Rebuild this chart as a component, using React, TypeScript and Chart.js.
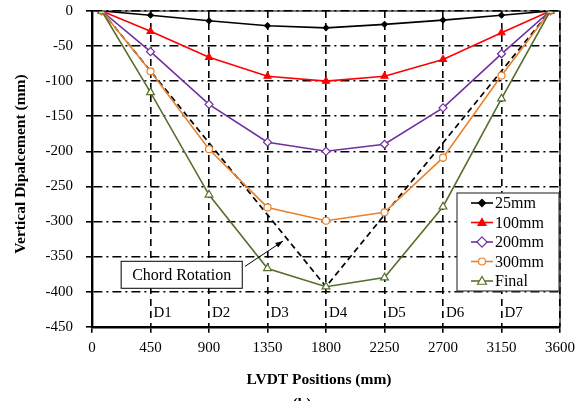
import React, { useEffect, useRef } from "react";
import { Chart, registerables } from "chart.js";

Chart.register(...registerables);

const positions = [75, 450, 900, 1350, 1800, 2250, 2700, 3150, 3525];
const seriesLabels = ["25mm", "100mm", "200mm", "300mm", "Final"];
const d25 = [0, -6, -14, -21, -24, -19, -13, -6, 0];
const d100 = [0, -29, -66, -93, -100, -93, -69, -31, 0];
const d200 = [0, -58, -133, -187, -200, -190, -138, -61, 0];
const d300 = [0, -86, -197, -280, -299, -287, -209, -92, 0];
const dFinal = [0, -116, -262, -367, -393, -380, -279, -125, 0];

const chordX = [75, 1800, 3525];
const chordY = [0, -393, 0];

const gaugeLabels = ["D1", "D2", "D3", "D4", "D5", "D6", "D7"];
const gaugeX = [450, 900, 1350, 1800, 2250, 2700, 3150];
const gaugeY = -430;

const noteText = "Chord Rotation";
const noteCenter = [690, -376];
const arrowFrom = [1177, -364];
const arrowTo = [1469, -328];

const xTitle = "LVDT Positions (mm)";
const yTitle = "Vertical Dipalcement (mm)";
const captionText = "(b)";

const xTicks = { min: 0, max: 3600, step: 450 };
const yTicks = { min: -450, max: 0, step: 50 };

const FONT = "'Liberation Serif', 'Times New Roman', serif";

const styles = [
  { color: "#000000", style: "rectRot", radius: 2.8, fill: "#000000" },
  { color: "#ff0000", style: "triangle", radius: 4, fill: "#ff0000" },
  { color: "#7030a0", style: "rectRot", radius: 4, fill: "#ffffff" },
  { color: "#e8822e", style: "circle", radius: 3.5, fill: "#ffffff" },
  { color: "#56702c", style: "triangle", radius: 4.5, fill: "#ffffff" },
];

const seriesValues = [d25, d100, d200, d300, dFinal];

function markerPath(ctx: CanvasRenderingContext2D, style: string, r: number, x: number, y: number) {
  ctx.beginPath();
  if (style === "circle") {
    ctx.arc(x, y, r, 0, Math.PI * 2);
  } else if (style === "rectRot") {
    const d = r * Math.SQRT2 * 0.9;
    ctx.moveTo(x, y - d);
    ctx.lineTo(x + d, y);
    ctx.lineTo(x, y + d);
    ctx.lineTo(x - d, y);
    ctx.closePath();
  } else {
    const h = r * 1.5;
    ctx.moveTo(x, y - h * 0.66);
    ctx.lineTo(x + r, y + h * 0.33 + 1);
    ctx.lineTo(x - r, y + h * 0.33 + 1);
    ctx.closePath();
  }
}

export default function App() {
  const ref = useRef<HTMLCanvasElement | null>(null);

  useEffect(() => {
    const canvas = ref.current;
    if (!canvas) return;

    const datasets: any[] = seriesValues.map((vals, i) => ({
      label: seriesLabels[i],
      data: positions.map((x, j) => ({ x, y: vals[j] })),
      borderColor: styles[i].color,
      backgroundColor: styles[i].fill,
      pointBackgroundColor: styles[i].fill,
      pointBorderColor: styles[i].color,
      pointStyle: styles[i].style,
      pointRadius: styles[i].radius,
      pointBorderWidth: 1.2,
      borderWidth: 1.6,
      tension: 0,
      fill: false,
      order: 5 - i,
    }));
    datasets.push({
      label: "chord",
      data: chordX.map((x, j) => ({ x, y: chordY[j] })),
      borderColor: "#000000",
      borderWidth: 1.7,
      borderDash: [6, 4],
      pointRadius: 0,
      fill: false,
      tension: 0,
      order: 10,
    });

    const overlay = {
      id: "overlay",
      afterDraw(chart: any) {
        const ctx = chart.ctx as CanvasRenderingContext2D;
        const xs = chart.scales.x;
        const ys = chart.scales.y;
        const a = chart.chartArea;
        ctx.save();
        ctx.strokeStyle = "#000";
        ctx.setLineDash([]);
        ctx.lineWidth = 1.2;
        ctx.beginPath();
        ctx.moveTo(a.left, a.top);
        ctx.lineTo(a.right, a.top);
        ctx.lineTo(a.right, a.bottom);
        ctx.stroke();

        ctx.fillStyle = "#000";
        ctx.font = `15px ${FONT}`;
        ctx.textAlign = "left";
        ctx.textBaseline = "middle";
        gaugeLabels.forEach((t, i) => {
          ctx.fillText(t, xs.getPixelForValue(gaugeX[i]) + 3, ys.getPixelForValue(gaugeY));
        });

        const ax0 = xs.getPixelForValue(arrowFrom[0]);
        const ay0 = ys.getPixelForValue(arrowFrom[1]);
        const ax1 = xs.getPixelForValue(arrowTo[0]);
        const ay1 = ys.getPixelForValue(arrowTo[1]);
        ctx.lineWidth = 1;
        ctx.beginPath();
        ctx.moveTo(ax0, ay0);
        ctx.lineTo(ax1, ay1);
        ctx.stroke();
        const ang = Math.atan2(ay1 - ay0, ax1 - ax0);
        const hl = 8;
        ctx.beginPath();
        ctx.moveTo(ax1, ay1);
        ctx.lineTo(ax1 - hl * Math.cos(ang - 0.35), ay1 - hl * Math.sin(ang - 0.35));
        ctx.lineTo(ax1 - hl * Math.cos(ang + 0.35), ay1 - hl * Math.sin(ang + 0.35));
        ctx.closePath();
        ctx.fill();

        const nx = xs.getPixelForValue(noteCenter[0]);
        const ny = ys.getPixelForValue(noteCenter[1]);
        ctx.font = `16px ${FONT}`;
        const tw = ctx.measureText(noteText).width;
        const bw = tw + 22;
        const bh = 27;
        ctx.fillStyle = "#fff";
        ctx.fillRect(nx - bw / 2, ny - bh / 2, bw, bh);
        ctx.strokeStyle = "#000";
        ctx.lineWidth = 1;
        ctx.strokeRect(nx - bw / 2, ny - bh / 2, bw, bh);
        ctx.fillStyle = "#000";
        ctx.textAlign = "center";
        ctx.textBaseline = "middle";
        ctx.fillText(noteText, nx, ny + 1);

        const lx = 457, ly = 193, lw = 102, lh = 98;
        ctx.fillStyle = "#fff";
        ctx.fillRect(lx, ly, lw, lh);
        ctx.strokeStyle = "#404040";
        ctx.lineWidth = 1.2;
        ctx.strokeRect(lx, ly, lw, lh);
        seriesLabels.forEach((lab, i) => {
          const cy = ly + 10 + i * 19.5;
          const st = styles[i];
          ctx.strokeStyle = st.color;
          ctx.lineWidth = 1.6;
          ctx.beginPath();
          ctx.moveTo(lx + 14, cy);
          ctx.lineTo(lx + 36, cy);
          ctx.stroke();
          markerPath(ctx, st.style, st.radius, lx + 25, cy);
          ctx.fillStyle = st.fill;
          ctx.strokeStyle = st.color;
          ctx.lineWidth = 1.2;
          ctx.fill();
          ctx.stroke();
          ctx.fillStyle = "#000";
          ctx.font = `16px ${FONT}`;
          ctx.textAlign = "left";
          ctx.textBaseline = "middle";
          ctx.fillText(lab, lx + 38, cy + 1);
        });

        ctx.fillStyle = "#000";
        ctx.font = `bold 15.5px ${FONT}`;
        ctx.textAlign = "center";
        ctx.textBaseline = "middle";
        ctx.fillText(xTitle, 319, 380);
        ctx.save();
        ctx.translate(21, 164);
        ctx.rotate(-Math.PI / 2);
        ctx.fillText(yTitle, 0, 0);
        ctx.restore();

        ctx.font = `bold 15px ${FONT}`;
        ctx.textBaseline = "top";
        ctx.fillText(captionText, 302, 397);
        ctx.restore();
      },
    };

    const chart = new Chart(canvas, {
      type: "line",
      data: { datasets },
      options: {
        animation: false,
        responsive: false,
        maintainAspectRatio: false,
        layout: { padding: { left: 0, top: 11, right: 23, bottom: 0 } },
        plugins: {
          legend: { display: false },
          tooltip: { enabled: false },
        },
        scales: {
          x: {
            type: "linear",
            min: xTicks.min,
            max: xTicks.max,
            afterFit: (s: any) => {
              s.height = 74.3;
              s.paddingLeft = 0;
              s.paddingRight = 0;
            },
            afterBuildTicks: (s: any) => {
              const t = [];
              for (let v = xTicks.min; v <= xTicks.max; v += xTicks.step) t.push({ value: v });
              s.ticks = t;
            },
            ticks: {
              color: "#000",
              font: { family: FONT, size: 15 },
              padding: 6,
              maxRotation: 0,
              autoSkip: false,
              callback: (v: any) => String(v),
            },
            grid: {
              color: "#000",
              lineWidth: 1.6,
              drawTicks: true,
              tickLength: 6,
              tickWidth: 1.6,
              tickColor: "#000",
            },
            border: { display: true, color: "#000", width: 2.4, dash: [7, 5] },
          },
          y: {
            type: "linear",
            min: yTicks.min,
            max: yTicks.max,
            afterFit: (s: any) => {
              s.width = 92;
              s.paddingTop = 0;
              s.paddingBottom = 0;
            },
            afterBuildTicks: (s: any) => {
              const t = [];
              for (let v = yTicks.min; v <= yTicks.max; v += yTicks.step) t.push({ value: v });
              s.ticks = t;
            },
            ticks: {
              color: "#000",
              font: { family: FONT, size: 15 },
              padding: 13,
              autoSkip: false,
              callback: (v: any) => String(v),
            },
            grid: {
              color: "#000",
              lineWidth: 1.6,
              drawTicks: true,
              tickLength: 6,
              tickWidth: 1.6,
              tickColor: "#000",
            },
            border: { display: true, color: "#000", width: 2.4, dash: [9, 4, 2, 4] },
          },
        },
      },
      plugins: [overlay],
    });

    return () => {
      chart.destroy();
    };
  }, []);

  return (
    <div style={{ position: "absolute", left: 0, top: 0, width: 583, height: 401, background: "#fff" }}>
      <canvas ref={ref} width={583} height={401} style={{ display: "block" }} />
    </div>
  );
}
